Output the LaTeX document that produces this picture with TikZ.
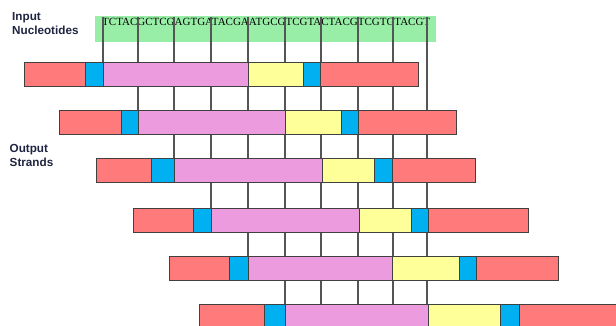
\documentclass[tikz,border=0pt]{standalone}
\usepackage{fontspec}
\setmainfont{Liberation Serif}
\setsansfont{Liberation Sans}
\usetikzlibrary{positioning,backgrounds}
\definecolor{tailred}{RGB}{255,123,123}
\definecolor{linkblue}{RGB}{0,176,240}
\definecolor{corepink}{RGB}{236,156,222}
\definecolor{capyellow}{RGB}{255,255,153}
\definecolor{seqgreen}{RGB}{152,238,166}
\definecolor{segline}{RGB}{64,64,64}
\definecolor{guidegray}{RGB}{85,85,85}
\definecolor{labelnavy}{RGB}{30,36,64}

\begin{document}
\begin{tikzpicture}[x=1pt, y=-1pt,
seg/.style={draw=segline, line width=0.9pt, anchor=north west, minimum height=24, inner sep=0pt, outer sep=0pt},
sidetext/.style={font=\sffamily\bfseries\fontsize{11.7}{14}\selectfont, text=labelnavy, align=left, anchor=north west, inner sep=0pt},
guide/.style={draw=guidegray, line width=1.2pt}
]
\useasboundingbox (0,0) rectangle (616,326);
\clip (0,0) rectangle (616,326);

% labels on the left
\node[sidetext] (inlbl) at (12,12.5) {Input\\Nucleotides};
\node[sidetext] (outlbl) at (9.5,144.5) {Output\\Strands};

% output strands: row / top / red / blue / pink / yellow / blue / red / end
\foreach \k/\y/\a/\b/\c/\d/\e/\f/\g in {0/62/24/85/103/248/303/320/418,%
1/110.5/59/121/138/285/341/358/456,%
2/158/96/151/174/322/374/392/475,%
3/208/133/193/211/359/411/428/528,%
4/256/169/229/248/392/459/476/558,%
5/304/199/264/285/428/500/519/640}{
  \node[seg, fill=tailred, minimum width=\b-\a] (tl\k) at (\a,\y) {};
  \node[seg, fill=linkblue, minimum width=\c-\b] (bl\k) at (\b,\y) {};
  \node[seg, fill=corepink, minimum width=\d-\c] (pk\k) at (\c,\y) {};
  \node[seg, fill=capyellow, minimum width=\e-\d] (yw\k) at (\d,\y) {};
  \node[seg, fill=linkblue, minimum width=\f-\e] (br\k) at (\e,\y) {};
  \node[seg, fill=tailred, minimum width=\g-\f] (tr\k) at (\f,\y) {};
}

\begin{scope}[on background layer]
% input nucleotides
\node[anchor=north west, fill=seqgreen, minimum width=341, minimum height=26, inner sep=0pt] (nucl) at (95,16) {};
\node[anchor=base west, inner sep=0pt, font=\fontsize{11}{11}\selectfont] (seq) at (102,25.5) {TCTACGCTCGAGTGATACGAATGCGTCGTACTACGTCGTGTACGT};

% guide lines, behind the strands
\foreach \x/\n [count=\i from 0] in {103/0,138/1,174/2,211/3,248/4,285/5,321/5,358/5,393/5,427/5}{
  \coordinate (t\i) at (\x,17);
  \draw[guide] (t\i) -- (t\i |- pk\n.north);
}
\end{scope}
\end{tikzpicture}
\end{document}
